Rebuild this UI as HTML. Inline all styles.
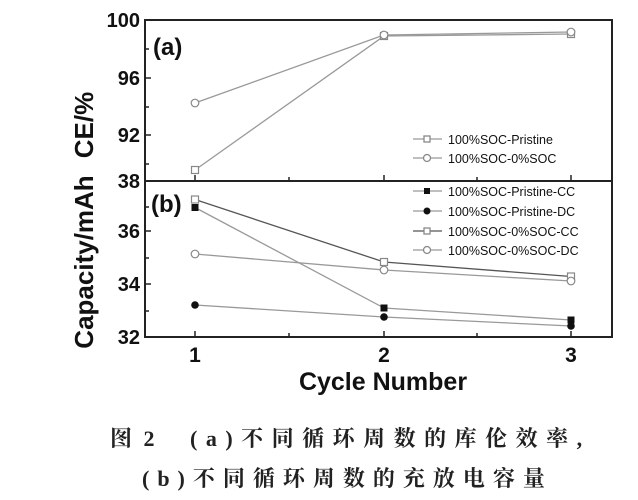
<!DOCTYPE html>
<html><head><meta charset="utf-8"><style>
html,body{margin:0;padding:0;background:#fff;}
svg{display:block;}
.t{font-family:"Liberation Sans",sans-serif;}
.b{font-family:"Liberation Sans","DejaVu Sans",sans-serif;font-weight:bold;}
.c{font-family:"Liberation Serif","Noto Serif CJK SC",serif;font-weight:bold;}
</style></head><body>
<svg width="638" height="500" viewBox="0 0 638 500" xmlns="http://www.w3.org/2000/svg">
<rect width="638" height="500" fill="#fff"/>
<rect x="145" y="20" width="467" height="317" fill="none" stroke="#222" stroke-width="2"/>
<line x1="145" y1="181" x2="612" y2="181" stroke="#222" stroke-width="2"/>
<g stroke="#222" stroke-width="1.5">
<line x1="195" y1="181" x2="195" y2="175"/><line x1="289" y1="181" x2="289" y2="177"/>
<line x1="384" y1="181" x2="384" y2="175"/><line x1="477" y1="181" x2="477" y2="177"/>
<line x1="571" y1="181" x2="571" y2="175"/>
<line x1="195" y1="337" x2="195" y2="331"/><line x1="289" y1="337" x2="289" y2="333"/>
<line x1="384" y1="337" x2="384" y2="331"/><line x1="477" y1="337" x2="477" y2="333"/>
<line x1="571" y1="337" x2="571" y2="331"/>
<line x1="145" y1="78" x2="151" y2="78"/><line x1="145" y1="135" x2="151" y2="135"/>
<line x1="145" y1="49" x2="149" y2="49"/><line x1="145" y1="107" x2="149" y2="107"/><line x1="145" y1="164" x2="149" y2="164"/>
<line x1="145" y1="231" x2="151" y2="231"/><line x1="145" y1="284" x2="151" y2="284"/>
<line x1="145" y1="207" x2="149" y2="207"/><line x1="145" y1="258" x2="149" y2="258"/><line x1="145" y1="311" x2="149" y2="311"/>
</g>
<g class="b" font-size="20" text-anchor="end" fill="#111">
<text x="140" y="27">100</text><text x="140" y="85">96</text><text x="140" y="142">92</text>
<text x="140" y="188">38</text><text x="140" y="238">36</text><text x="140" y="291">34</text><text x="140" y="344">32</text>
</g>
<g class="b" font-size="21" text-anchor="middle" fill="#111">
<text x="195" y="362">1</text><text x="384" y="362">2</text><text x="571" y="362">3</text>
</g>
<text class="b" x="383" y="390" font-size="25" text-anchor="middle" fill="#111">Cycle Number</text>
<text class="b" font-size="26" fill="#111" transform="translate(93,125) rotate(-90)" text-anchor="middle">CE/%</text>
<text class="b" font-size="26" fill="#111" transform="translate(93,262) rotate(-90)" text-anchor="middle">Capacity/mAh</text>
<text class="b" x="153" y="55" font-size="24" fill="#111">(a)</text>
<text class="b" x="151" y="212" font-size="24" fill="#111">(b)</text>
<g fill="none" stroke="#999" stroke-width="1.3">
<polyline points="195,170 384,36 571,34"/>
<polyline points="195,103 384,35 571,32"/>
</g>
<g fill="#fff" stroke="#888" stroke-width="1.2">
<rect x="191.5" y="166.5" width="7" height="7"/><rect x="380.5" y="32.5" width="7" height="7"/><rect x="567.5" y="30.5" width="7" height="7"/>
<circle cx="195" cy="103" r="3.8"/><circle cx="384" cy="35" r="3.8"/><circle cx="571" cy="32" r="3.8"/>
</g>
<g stroke="#999" stroke-width="1.3" fill="#fff">
<line x1="413" y1="139" x2="442" y2="139"/><rect x="424" y="136" width="6" height="6" stroke="#888"/>
<line x1="413" y1="158" x2="442" y2="158"/><circle cx="427" cy="158" r="3.5" stroke="#888"/>
</g>
<g class="t" font-size="12.5" fill="#111">
<text x="448" y="144">100%SOC-Pristine</text><text x="448" y="163">100%SOC-0%SOC</text>
</g>
<g fill="none" stroke-width="1.3">
<polyline stroke="#999" points="195,207.5 384,308 571,320"/>
<polyline stroke="#999" points="195,305 384,317 571,326"/>
<polyline stroke="#555" points="195,199.5 384,262 571,276.5"/>
<polyline stroke="#999" points="195,254 384,270 571,281"/>
</g>
<g fill="#111">
<rect x="191.5" y="204" width="7" height="7"/><rect x="380.5" y="304.5" width="7" height="7"/><rect x="567.5" y="316.5" width="7" height="7"/>
<circle cx="195" cy="305" r="3.8"/><circle cx="384" cy="317" r="3.8"/><circle cx="571" cy="326" r="3.8"/>
</g>
<g fill="#fff" stroke="#888" stroke-width="1.2">
<rect x="191.5" y="196" width="7" height="7"/><rect x="380.5" y="258.5" width="7" height="7"/><rect x="567.5" y="273" width="7" height="7"/>
<circle cx="195" cy="254" r="3.8"/><circle cx="384" cy="270" r="3.8"/><circle cx="571" cy="281" r="3.8"/>
</g>
<g stroke-width="1.3">
<line x1="413" y1="191" x2="442" y2="191" stroke="#999"/><rect x="424" y="188" width="6" height="6" fill="#111"/>
<line x1="413" y1="211" x2="442" y2="211" stroke="#999"/><circle cx="427" cy="211" r="3.5" fill="#111"/>
<line x1="413" y1="231" x2="442" y2="231" stroke="#555"/><rect x="424" y="228" width="6" height="6" fill="#fff" stroke="#888"/>
<line x1="413" y1="250" x2="442" y2="250" stroke="#999"/><circle cx="427" cy="250" r="3.5" fill="#fff" stroke="#888"/>
</g>
<g class="t" font-size="12.5" fill="#111">
<text x="448" y="196">100%SOC-Pristine-CC</text><text x="448" y="216">100%SOC-Pristine-DC</text>
<text x="448" y="236">100%SOC-0%SOC-CC</text><text x="448" y="255">100%SOC-0%SOC-DC</text>
</g>
<text class="c" x="110" y="446" font-size="22" fill="#222" letter-spacing="3">图 2</text>
<text class="c" x="190" y="446" font-size="22" fill="#222" letter-spacing="8.5">(a)不同循环周数的库伦效率,</text>
<text class="c" x="142" y="486" font-size="22" fill="#222" letter-spacing="8">(b)不同循环周数的充放电容量</text>
</svg>
</body></html>
